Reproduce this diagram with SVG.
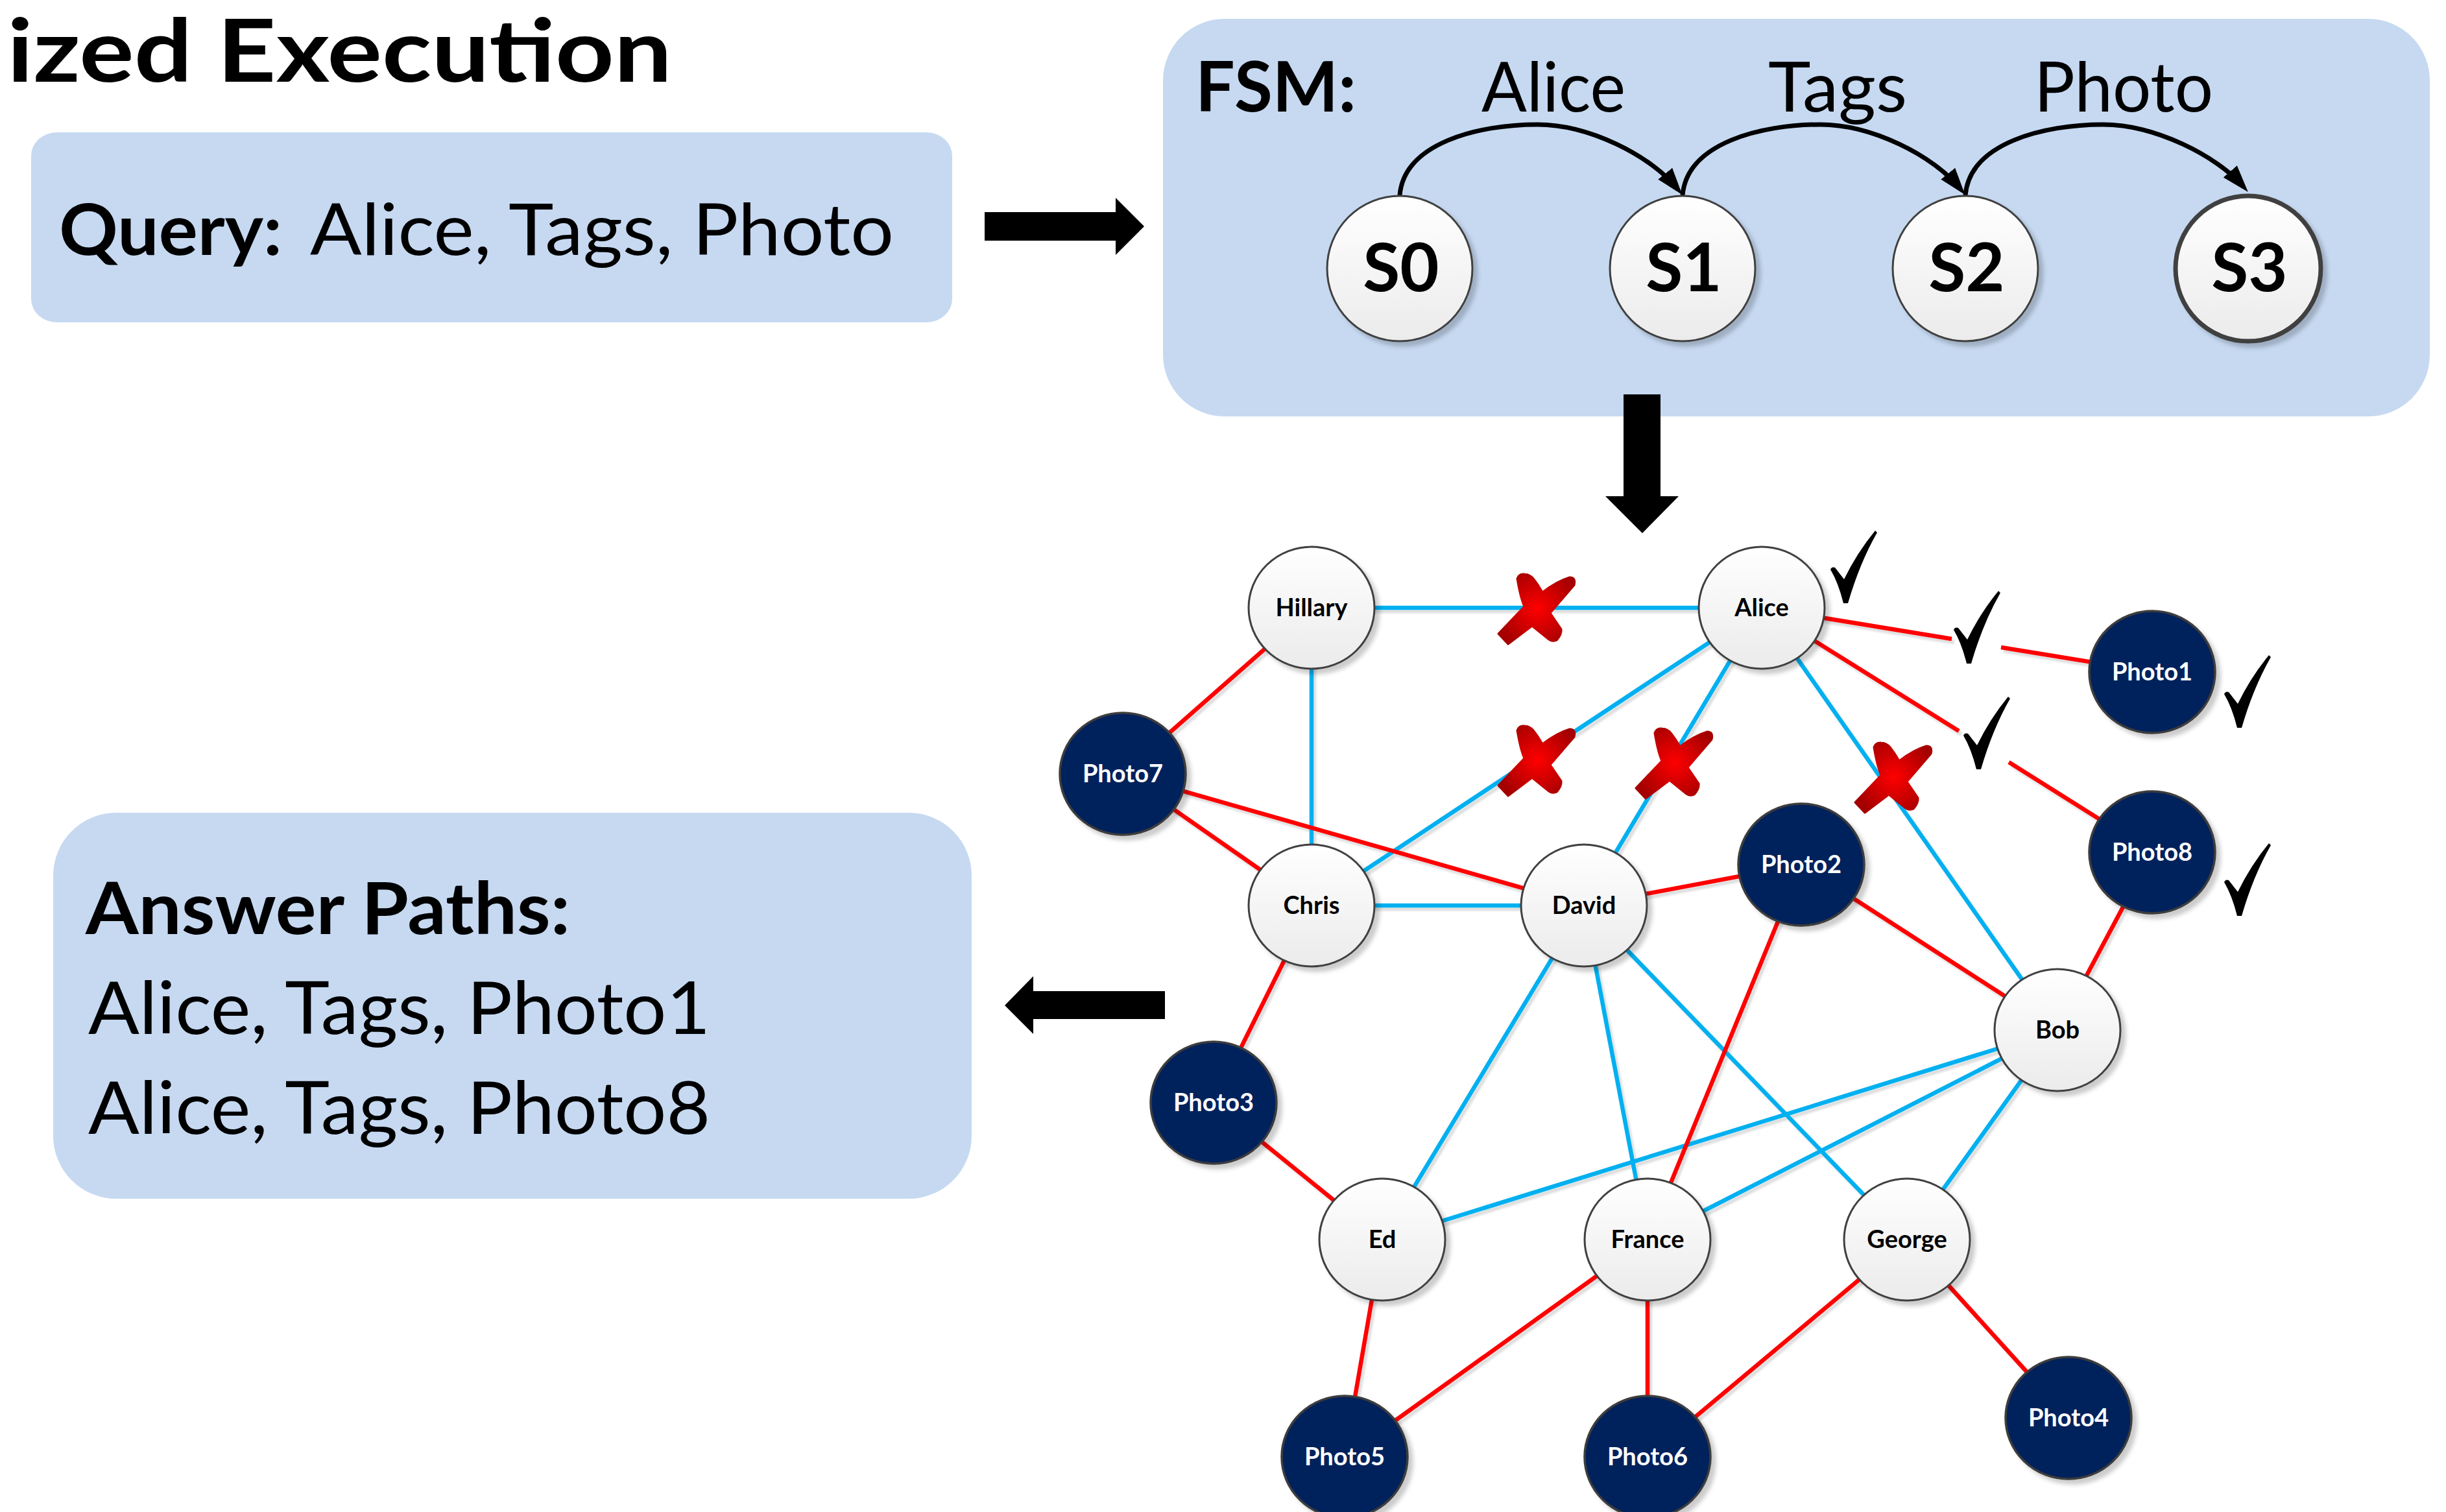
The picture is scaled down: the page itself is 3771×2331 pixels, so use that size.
<svg xmlns="http://www.w3.org/2000/svg" xmlns:xlink="http://www.w3.org/1999/xlink" width="3771" height="2331" viewBox="0 0 3771 2331">
  <defs>
    <style>
      text { font-family: Lato, "Open Sans", "Liberation Sans", sans-serif; fill: #000; }
      .b { font-weight: 700; }
      .r { font-weight: 400; }
      .panel { fill: #C6D9F1; }
      .blk { fill: #000; }
      .state { fill: url(#lightFill); stroke: #404040; stroke-width: 3; filter: url(#nodeShadow); }
      .state-final { stroke-width: 7; }
      .slabel { font-weight: 700; font-size: 104px; text-anchor: middle; }
      .trans { fill: none; stroke: #000; stroke-width: 7; marker-end: url(#arrowHead); }
      .ent { fill: url(#lightFill); stroke: #404040; stroke-width: 3; filter: url(#nodeShadow); }
      .photo { fill: #03205C; stroke: #3C3C3C; stroke-width: 3.5; filter: url(#nodeShadow); }
      .nl { font-weight: 700; font-size: 38px; text-anchor: middle; }
      .pl { font-weight: 700; font-size: 38px; text-anchor: middle; fill: #fff; }
      .rel { stroke: #00B0F0; stroke-width: 6.5; fill: none; }
      .tag { stroke: #FF0000; stroke-width: 6.5; fill: none; }
    </style>
    <linearGradient id="lightFill" x1="0" y1="0" x2="0" y2="1">
      <stop offset="0" stop-color="#FFFFFF"/>
      <stop offset="1" stop-color="#EBEBEB"/>
    </linearGradient>
    <radialGradient id="xFill" gradientUnits="userSpaceOnUse" cx="0" cy="0" r="64">
      <stop offset="0" stop-color="#FF0000"/>
      <stop offset="0.55" stop-color="#CC0000"/>
      <stop offset="1" stop-color="#A50000"/>
    </radialGradient>
    <filter id="nodeShadow" x="-20%" y="-20%" width="150%" height="150%">
      <feDropShadow dx="7" dy="7" stdDeviation="3" flood-color="#000" flood-opacity="0.2"/>
    </filter>
    <filter id="edgeShadow" x="-5%" y="-5%" width="110%" height="110%">
      <feDropShadow dx="4" dy="5" stdDeviation="1.5" flood-color="#000" flood-opacity="0.13"/>
    </filter>
    <marker id="arrowHead" markerUnits="userSpaceOnUse" markerWidth="44" markerHeight="30" refX="30" refY="14" orient="auto">
      <path d="M0,0 L42,14 L0,28 Z" fill="#000"/>
    </marker>
    <!-- check mark, origin at its bottom point -->
    <path id="check" d="M-23,-52 Q-21,-57 -16,-55 L-2,-37 Q18,-78 46,-112 L49,-109 Q22,-62 4,0 L-3,0 Q-11,-32 -23,-52 Z" fill="#000"/>
    <!-- red cross, origin at the crossing -->
    <path id="cross" d="M-31,-46 Q-28,-54 -20,-53 Q-12,-53 -6,-46 Q2,-36 8,-25 Q30,-42 50,-48 Q60,-48 57,-36 L20,7 L37,32 Q38,40 30,49 Q24,52 18,48 L-8,27 L-45,55 L-60,39 L-20,-3 Q-26,-16 -31,-46 Z" fill="url(#xFill)" stroke="url(#xFill)" stroke-width="3" stroke-linejoin="round"/>
  </defs>

  <rect width="3771" height="2331" fill="#FFFFFF"/>

  <!-- heading -->
  <text class="b" x="11" y="126" font-size="134" textLength="1025" lengthAdjust="spacingAndGlyphs">ized Execution</text>

  <!-- query panel -->
  <g id="query">
    <rect class="panel" x="48" y="204" width="1420" height="293" rx="40" ry="36"/>
    <text class="b" x="91" y="393" font-size="110" textLength="344" lengthAdjust="spacingAndGlyphs">Query:</text>
    <text class="r" x="478" y="393" font-size="110" textLength="900" lengthAdjust="spacingAndGlyphs">Alice, Tags, Photo</text>
  </g>

  <!-- block arrows between panels -->
  <path id="arrow-right" class="blk" d="M1518,327 L1720,327 L1720,305 L1764,349 L1720,393 L1720,371 L1518,371 Z"/>

  <!-- automaton panel -->
  <g id="fsm">
    <rect class="panel" x="1793" y="29" width="1953" height="613" rx="95" ry="95"/>
    <text class="b" x="1843" y="172" font-size="108" textLength="248" lengthAdjust="spacingAndGlyphs">FSM:</text>
    <text class="r" x="2284" y="172" font-size="106" textLength="222" lengthAdjust="spacingAndGlyphs">Alice</text>
    <text class="r" x="2726" y="172" font-size="106" textLength="214" lengthAdjust="spacingAndGlyphs">Tags</text>
    <text class="r" x="3136" y="172" font-size="106" textLength="276" lengthAdjust="spacingAndGlyphs">Photo</text>
    <g id="fsm-transitions">
      <path class="trans" d="M2158,301 C2165,220 2280,192 2370,192 C2450,192 2545,240 2586,291"/>
      <path class="trans" d="M2594,301 C2601,220 2716,192 2806,192 C2886,192 2981,240 3022,291"/>
      <path class="trans" d="M3030,301 C3037,220 3152,192 3242,192 C3322,192 3417,240 3458,287"/>
    </g>
    <g id="s0"><circle class="state" cx="2158" cy="414" r="112"/><text class="slabel" x="2160" y="449">S0</text></g>
    <g id="s1"><circle class="state" cx="2594" cy="414" r="112"/><text class="slabel" x="2596" y="449">S1</text></g>
    <g id="s2"><circle class="state" cx="3030" cy="414" r="112"/><text class="slabel" x="3032" y="449">S2</text></g>
    <g id="s3"><circle class="state state-final" cx="3466" cy="414" r="112"/><text class="slabel" x="3468" y="449">S3</text></g>
  </g>

  <path id="arrow-down" class="blk" d="M2503,608 L2560,608 L2560,765 L2588,765 L2532,822 L2475,765 L2503,765 Z"/>

  <!-- result panel -->
  <g id="answers">
    <rect class="panel" x="82" y="1253" width="1416" height="595" rx="97" ry="97"/>
    <text class="b" x="132" y="1440" font-size="111" textLength="747" lengthAdjust="spacingAndGlyphs">Answer Paths:</text>
    <text class="r" x="136" y="1594" font-size="112" textLength="959" lengthAdjust="spacingAndGlyphs">Alice, Tags, Photo1</text>
    <text class="r" x="136" y="1748" font-size="112" textLength="959" lengthAdjust="spacingAndGlyphs">Alice, Tags, Photo8</text>
  </g>

  <path id="arrow-left" class="blk" d="M1796,1528 L1593,1528 L1593,1505 L1549,1550 L1593,1594 L1593,1571 L1796,1571 Z"/>

  <!-- graph edges -->
  <g id="connectors" filter="url(#edgeShadow)">
    <path class="rel" d="M2022,937 L2716,937"/>
    <path class="rel" d="M2022,937 L2022,1396"/>
    <path class="rel" d="M2022,1396 L2442,1396"/>
    <path class="rel" d="M2022,1396 L2716,937"/>
    <path class="rel" d="M2442,1396 L2716,937"/>
    <path class="rel" d="M2716,937 L3172,1588"/>
    <path class="rel" d="M2442,1396 L2131,1911"/>
    <path class="rel" d="M2442,1396 L2540,1911"/>
    <path class="rel" d="M2442,1396 L2940,1911"/>
    <path class="rel" d="M3172,1588 L2131,1911"/>
    <path class="rel" d="M3172,1588 L2540,1911"/>
    <path class="rel" d="M3172,1588 L2940,1911"/>

    <path class="tag" d="M2022,937 L1731,1193"/>
    <path class="tag" d="M1731,1193 L2022,1396"/>
    <path class="tag" d="M1731,1193 L2442,1396"/>
    <path class="tag" d="M2022,1396 L1871,1700"/>
    <path class="tag" d="M1871,1700 L2131,1911"/>
    <path class="tag" d="M2442,1396 L2777,1333"/>
    <path class="tag" d="M2777,1333 L3172,1588"/>
    <path class="tag" d="M2777,1333 L2540,1911"/>
    <path class="tag" d="M2716,937 L3009,985"/>
    <path class="tag" d="M3085,998 L3318,1036"/>
    <path class="tag" d="M2716,937 L3020,1127"/>
    <path class="tag" d="M3097,1175 L3318,1314"/>
    <path class="tag" d="M3318,1314 L3172,1588"/>
    <path class="tag" d="M2131,1911 L2073,2246"/>
    <path class="tag" d="M2540,1911 L2073,2246"/>
    <path class="tag" d="M2540,1911 L2540,2246"/>
    <path class="tag" d="M2940,1911 L2540,2246"/>
    <path class="tag" d="M2940,1911 L3189,2186"/>
  </g>

  <!-- graph nodes -->
  <g id="hillary"><ellipse class="ent" cx="2022" cy="937" rx="97" ry="94"/><text class="nl" x="2022" y="950">Hillary</text></g>
  <g id="alice"><ellipse class="ent" cx="2716" cy="937" rx="97" ry="94"/><text class="nl" x="2716" y="950">Alice</text></g>
  <g id="chris"><ellipse class="ent" cx="2022" cy="1396" rx="97" ry="94"/><text class="nl" x="2022" y="1409">Chris</text></g>
  <g id="david"><ellipse class="ent" cx="2442" cy="1396" rx="97" ry="94"/><text class="nl" x="2442" y="1409">David</text></g>
  <g id="bob"><ellipse class="ent" cx="3172" cy="1588" rx="97" ry="94"/><text class="nl" x="3172" y="1601">Bob</text></g>
  <g id="ed"><ellipse class="ent" cx="2131" cy="1911" rx="97" ry="94"/><text class="nl" x="2131" y="1924">Ed</text></g>
  <g id="france"><ellipse class="ent" cx="2540" cy="1911" rx="97" ry="94"/><text class="nl" x="2540" y="1924">France</text></g>
  <g id="george"><ellipse class="ent" cx="2940" cy="1911" rx="97" ry="94"/><text class="nl" x="2940" y="1924">George</text></g>

  <g id="photo1"><ellipse class="photo" cx="3318" cy="1036" rx="97" ry="94"/><text class="pl" x="3318" y="1049">Photo1</text></g>
  <g id="photo2"><ellipse class="photo" cx="2777" cy="1333" rx="97" ry="94"/><text class="pl" x="2777" y="1346">Photo2</text></g>
  <g id="photo3"><ellipse class="photo" cx="1871" cy="1700" rx="97" ry="94"/><text class="pl" x="1871" y="1713">Photo3</text></g>
  <g id="photo4"><ellipse class="photo" cx="3189" cy="2186" rx="97" ry="94"/><text class="pl" x="3189" y="2199">Photo4</text></g>
  <g id="photo5"><ellipse class="photo" cx="2073" cy="2246" rx="97" ry="94"/><text class="pl" x="2073" y="2259">Photo5</text></g>
  <g id="photo6"><ellipse class="photo" cx="2540" cy="2246" rx="97" ry="94"/><text class="pl" x="2540" y="2259">Photo6</text></g>
  <g id="photo7"><ellipse class="photo" cx="1731" cy="1193" rx="97" ry="94"/><text class="pl" x="1731" y="1206">Photo7</text></g>
  <g id="photo8"><ellipse class="photo" cx="3318" cy="1314" rx="97" ry="94"/><text class="pl" x="3318" y="1327">Photo8</text></g>

  <!-- pruned edges -->
  <g id="crosses">
    <use xlink:href="#cross" x="2370" y="938"/>
    <use xlink:href="#cross" x="2370" y="1172"/>
    <use xlink:href="#cross" x="2582" y="1176"/>
    <use xlink:href="#cross" x="2920" y="1198"/>
  </g>

  <!-- matched steps -->
  <g id="checks">
    <use xlink:href="#check" x="2845" y="930"/>
    <use xlink:href="#check" x="3035" y="1023"/>
    <use xlink:href="#check" x="3050" y="1186"/>
    <use xlink:href="#check" x="3452" y="1122"/>
    <use xlink:href="#check" x="3452" y="1412"/>
  </g>
</svg>
